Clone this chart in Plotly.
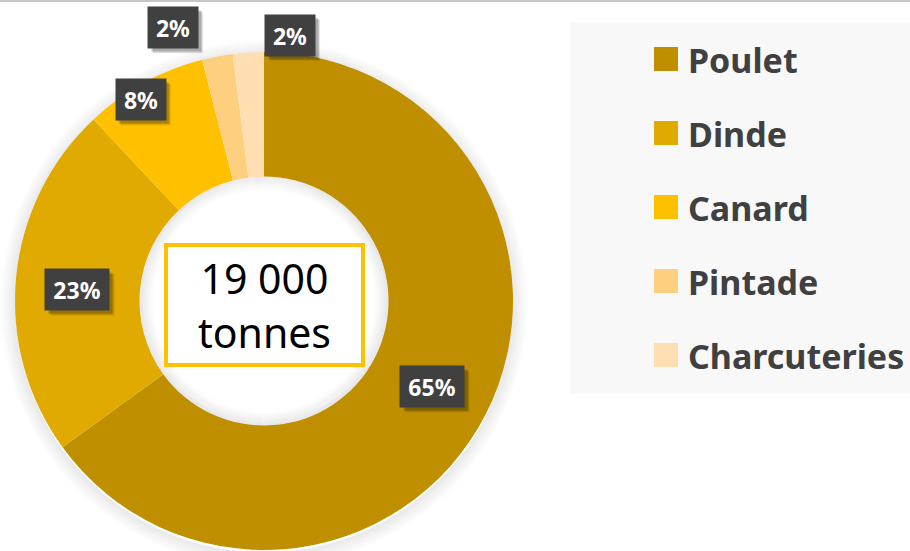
import math
import plotly.graph_objects as go

# ---------------- data ----------------
categories = ["Poulet", "Dinde", "Canard", "Pintade", "Charcuteries"]
shares = [65, 23, 8, 2, 2]
pct_labels = ["65%", "23%", "8%", "2%", "2%"]
center_lines = ["19 000", "tonnes"]

# ---------------- style ----------------
colors = ["#BF8F00", "#E0AA00", "#FFC000", "#FFCF80", "#FFDFB2"]
label_angle_shift = [0, -2, -2.7, -7.6, 9.2]   # degrees, nudges of the data labels
label_radius = [189, 187, 236, 288, 267]       # px from the donut centre

W, H = 910, 551
CX, CY, R = 264, 301, 249   # donut centre / outer radius in px
HOLE = 0.5
FONT = "Noto Sans"

fig = go.Figure(
    go.Pie(
        labels=categories,
        values=shares,
        hole=HOLE,
        sort=False,
        direction="clockwise",
        rotation=0,
        marker=dict(colors=colors, line=dict(width=0)),
        textinfo="none",
        hoverinfo="label+percent",
        showlegend=False,
        domain=dict(x=[(CX - R) / W, (CX + R) / W],
                    y=[1 - (CY + R) / H, 1 - (CY - R) / H]),
    )
)


def px_rect(x0, y0, x1, y1, **kw):
    return dict(type="rect", xref="paper", yref="paper",
                x0=x0 / W, x1=x1 / W, y0=1 - y1 / H, y1=1 - y0 / H, **kw)


def px_circle(cx, cy, r, **kw):
    return dict(type="circle", xref="paper", yref="paper",
                x0=(cx - r) / W, x1=(cx + r) / W,
                y0=1 - (cy + r) / H, y1=1 - (cy - r) / H, **kw)


shapes = []
# top thin border line
shapes.append(dict(type="line", xref="paper", yref="paper", x0=0, x1=1,
                   y0=1 - 1 / H, y1=1 - 1 / H, line=dict(color="#C6C6C6", width=2)))

# soft outer shadow
for k in range(0, 16):
    op = 0.07 * (1 - k / 16)
    shapes.append(px_circle(CX, CY + 3, R + k, layer="below",
                            line=dict(color=f"rgba(0,0,0,{op:.3f})", width=1.3)))
# inner shadow of the hole
RH = R * HOLE
for k in range(0, 14):
    op = 0.08 * (1 - k / 14)
    shapes.append(px_circle(CX, CY, RH - 0.5 - k, layer="above",
                            line=dict(color=f"rgba(0,0,0,{op:.3f})", width=1.2)))

# legend panel
LX0, LY0, LY1 = 570, 22, 394
shapes.append(px_rect(LX0, LY0, W, LY1, layer="below",
                      fillcolor="#F8F8F8", line=dict(width=0)))

annotations = []

# legend entries
LEG_Y_FIRST, LEG_STEP = 59, 74
SQ_X0, SQ = 654, 24
for i, (cat, col) in enumerate(zip(categories, colors)):
    yc = LEG_Y_FIRST + i * LEG_STEP
    shapes.append(px_rect(SQ_X0, yc - SQ / 2, SQ_X0 + SQ, yc + SQ / 2,
                          fillcolor=col, line=dict(width=0)))
    annotations.append(dict(xref="paper", yref="paper", x=(SQ_X0 + SQ + 8) / W,
                            y=1 - (yc + 1) / H, xanchor="left", yanchor="middle",
                            text=f"<b>{cat}</b>", showarrow=False,
                            font=dict(family=FONT, size=34, color="#404040")))

# data labels (positions derived from slice angles)
total = sum(shares)
cum = 0
for v, txt, shift, rad in zip(shares, pct_labels, label_angle_shift, label_radius):
    mid = (cum + v / 2) / total * 360 + shift
    cum += v
    a = math.radians(mid)
    px = CX + rad * math.sin(a)
    py = CY - rad * math.cos(a)
    w = 56 if len(txt) >= 3 else 42
    bw, bh = w + 8, 41
    # drop shadow of the label box
    for s, op in ((5, 0.10), (4, 0.12), (3, 0.15)):
        shapes.append(px_rect(px - bw / 2 + s, py - bh / 2 + s, px + bw / 2 + s, py + bh / 2 + s,
                              layer="above", fillcolor=f"rgba(0,0,0,{op})", line=dict(width=0)))
    annotations.append(dict(xref="paper", yref="paper", x=px / W, y=1 - py / H,
                            xanchor="center", yanchor="middle", showarrow=False,
                            width=w, height=33, borderpad=4,
                            text=f"<b>{txt}</b>", bgcolor="#404040",
                            font=dict(family=FONT, size=23, color="#FFFFFF")))

# centre box
annotations.append(dict(xref="paper", yref="paper", x=CX / W, y=1 - 305 / H,
                        xanchor="center", yanchor="middle", showarrow=False,
                        text="<br>".join(center_lines), width=193, height=116,
                        bgcolor="#FFFFFF", bordercolor="#FFC000", borderwidth=4,
                        borderpad=0, font=dict(family=FONT, size=41, color="#000000")))

fig.update_layout(
    width=W, height=H,
    margin=dict(l=0, r=0, t=0, b=0),
    paper_bgcolor="#FFFFFF",
    plot_bgcolor="#FFFFFF",
    shapes=shapes,
    annotations=annotations,
    showlegend=False,
)

fig.write_html("out.html",
               config={"displayModeBar": False},
               post_script="document.body.style.margin='0';document.body.style.overflow='hidden';")
